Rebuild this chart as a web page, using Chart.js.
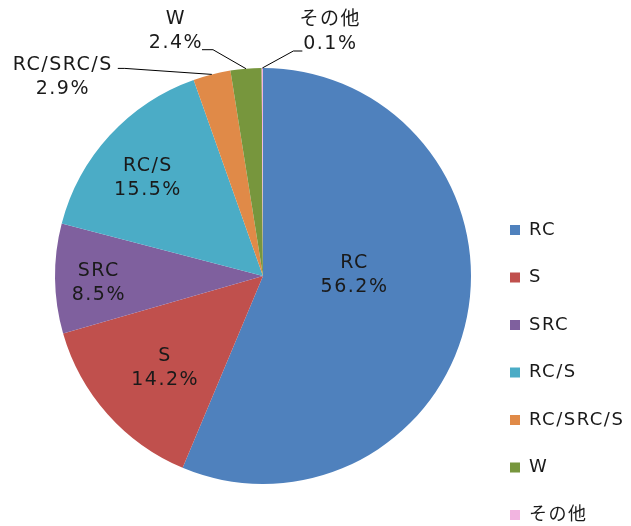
<!DOCTYPE html>
<html>
<head>
<meta charset="utf-8">
<script src="https://cdn.jsdelivr.net/npm/chart.js@4/dist/chart.umd.min.js"></script>
<style>
  html, body { margin: 0; padding: 0; background: #fff; }
  #pie { display: block; }
</style>
</head>
<body>
<canvas id="pie" width="631" height="526"></canvas>
<script>
// Structure types and their share (%)
const categories = ['RC', 'S', 'SRC', 'RC/S', 'RC/SRC/S', 'W', 'その他'];
const shares = [56.2, 14.2, 8.5, 15.5, 2.9, 2.4, 0.1];
const sliceColors = ['#4F81BD', '#C0504D', '#7F609E', '#4BACC6', '#E08A48', '#77963D', '#F2B4E0'];

const FONT_FAMILY = "'DejaVu Sans', 'Noto Sans CJK JP', sans-serif";
const TEXT_COLOR = '#1a1a1a';

// where each data label goes (inside: radius factor + angle tweak, outside: leader line offsets)
const labelPlacement = {
  'RC': { r: 0.44, da: -12 },
  'S': { r: 0.645, da: -1.5 },
  'SRC': { r: 0.79, da: -1.7 },
  'RC/S': { r: 0.726, da: -2.2 },
  'RC/SRC/S': { elbow: [-87, -6], tail: -7, text: [-149, 2.5] },
  'W': { elbow: [-33, -19], tail: -11, text: [-70, -37.5] },
  'その他': { elbow: [31, -17], tail: 9, text: [68, -35.5] }
};

// Fix pie box and legend position like the original sheet
const layoutPlugin = {
  id: 'fixedLayout',
  beforeUpdate(chart) {
    chart.ctx.letterSpacing = '1.5px';
  },
  afterLayout(chart) {
    const a = chart.chartArea;
    a.left = 55; a.top = 68; a.right = 471; a.bottom = 484;
    a.width = a.right - a.left;
    a.height = a.bottom - a.top;

    // legend column starts lower than centre; let it run past the bottom edge
    const lg = chart.legend;
    lg.left = 480.5; lg.top = 191.5;
    lg.right = chart.width; lg.bottom = 700;
    lg.width = lg.right - lg.left;
    lg.height = lg.bottom - lg.top;
  },
  beforeDraw(chart) {
    chart.ctx.letterSpacing = '1.5px';
  }
};

// Category name + percentage on every slice
const sliceLabels = {
  id: 'sliceLabels',
  afterDatasetsDraw(chart) {
    const ctx = chart.ctx;
    const arcs = chart.getDatasetMeta(0).data;
    ctx.save();
    ctx.font = 'normal 19px ' + FONT_FAMILY;
    ctx.letterSpacing = '1.5px';
    ctx.fillStyle = TEXT_COLOR;
    ctx.strokeStyle = '#000';
    ctx.lineWidth = 1;
    ctx.textAlign = 'center';
    ctx.textBaseline = 'middle';
    const lineGap = 12;

    arcs.forEach((arc, i) => {
      const name = categories[i];
      const value = shares[i].toFixed(1) + '%';
      const p = labelPlacement[name];
      const mid = (arc.startAngle + arc.endAngle) / 2;
      let cx, cy;
      if (p.r !== undefined) {
        const ang = mid + p.da * Math.PI / 180;
        cx = arc.x + Math.cos(ang) * arc.outerRadius * p.r;
        cy = arc.y + Math.sin(ang) * arc.outerRadius * p.r;
      } else {
        const ex = arc.x + Math.cos(mid) * arc.outerRadius;
        const ey = arc.y + Math.sin(mid) * arc.outerRadius;
        const bx = ex + p.elbow[0];
        const by = ey + p.elbow[1];
        ctx.beginPath();
        ctx.moveTo(ex, ey);
        ctx.lineTo(bx, by);
        ctx.lineTo(bx + p.tail, by);
        ctx.stroke();
        cx = ex + p.text[0];
        cy = ey + p.text[1];
      }
      ctx.fillText(name, cx, cy - lineGap);
      ctx.fillText(value, cx, cy + lineGap);
    });
    ctx.restore();
  }
};

new Chart(document.getElementById('pie'), {
  type: 'pie',
  data: {
    labels: categories,
    datasets: [{
      data: shares,
      backgroundColor: sliceColors,
      borderWidth: 0
    }]
  },
  options: {
    responsive: false,
    animation: false,
    devicePixelRatio: 1,
    plugins: {
      legend: {
        position: 'right',
        align: 'start',
        labels: {
          boxWidth: 10,
          boxHeight: 10,
          padding: 29.5,
          color: TEXT_COLOR,
          font: { family: FONT_FAMILY, size: 18 }
        }
      },
      tooltip: { enabled: false }
    }
  },
  plugins: [layoutPlugin, sliceLabels]
});
</script>
</body>
</html>
